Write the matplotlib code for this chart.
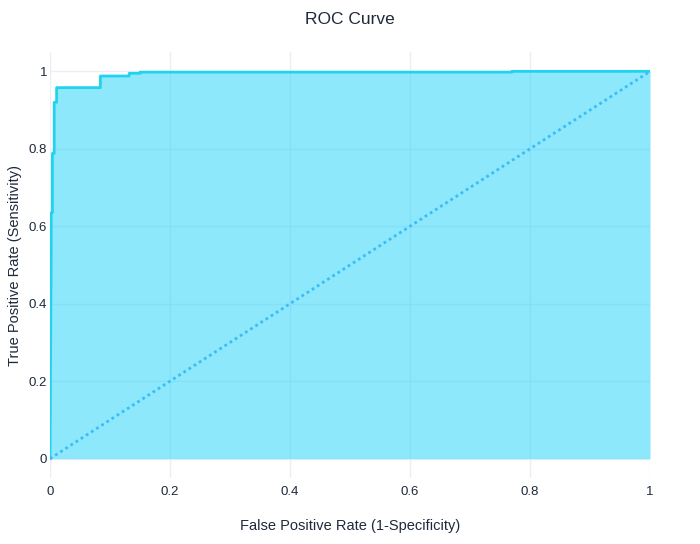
import matplotlib
matplotlib.use("Agg")
import matplotlib.pyplot as plt

fpr = [0.0, 0.002, 0.002, 0.004, 0.004, 0.007, 0.007, 0.011, 0.011, 0.084, 0.084, 0.132, 0.132, 0.15, 0.15, 0.77, 0.77, 1.0]
tpr = [0.0, 0.547, 0.635, 0.635, 0.788, 0.788, 0.92, 0.92, 0.958, 0.958, 0.988, 0.988, 0.995, 0.995, 0.998, 0.998, 1.0, 1.0]
ticks = [0, 0.2, 0.4, 0.6, 0.8, 1]
tick_labels = ["0", "0.2", "0.4", "0.6", "0.8", "1"]

plt.rcParams['font.family'] = ['Liberation Sans', 'DejaVu Sans']
fig = plt.figure(figsize=(7, 5.44), dpi=100)
ax = fig.add_axes([50/700, 66/544, 600/700, 426/544])

txt = '#1e2a3b'
ax.fill_between(fpr, tpr, 0, color='#1fd3fb', alpha=0.5, linewidth=0, zorder=2)
ax.plot(fpr, tpr, color='#22d3ee', linewidth=2, zorder=3)
ax.plot([0, 1], [0, 1], color='#38bdf8', linewidth=2, linestyle=(0, (1, 1.2)), zorder=4)

ax.set_xlim(0, 1)
ax.set_ylim(-0.05, 1.05)
ax.set_xticks(ticks)
ax.set_xticklabels(tick_labels)
ax.set_yticks(ticks)
ax.set_yticklabels(tick_labels)
ax.grid(True, color='#ebeef4', linewidth=1, zorder=0)
ax.set_axisbelow(True)
for s in ax.spines.values():
    s.set_visible(False)
ax.tick_params(axis='x', length=0, labelsize=9.5, colors=txt, pad=6)
ax.tick_params(axis='y', length=0, labelsize=9.5, colors=txt, pad=2)
ax.set_xlabel('False Positive Rate (1-Specificity)', fontsize=10.5, color=txt)
ax.set_ylabel('True Positive Rate (Sensitivity)', fontsize=10.5, color=txt)
ax.xaxis.set_label_coords(0.5, -0.097)
ax.yaxis.set_label_coords(-0.047, 0.5)
fig.text(0.5, 1 - 20/544, 'ROC Curve', ha='center', va='center', fontsize=12.5, color=txt)

fig.savefig('out.png', dpi=100)
